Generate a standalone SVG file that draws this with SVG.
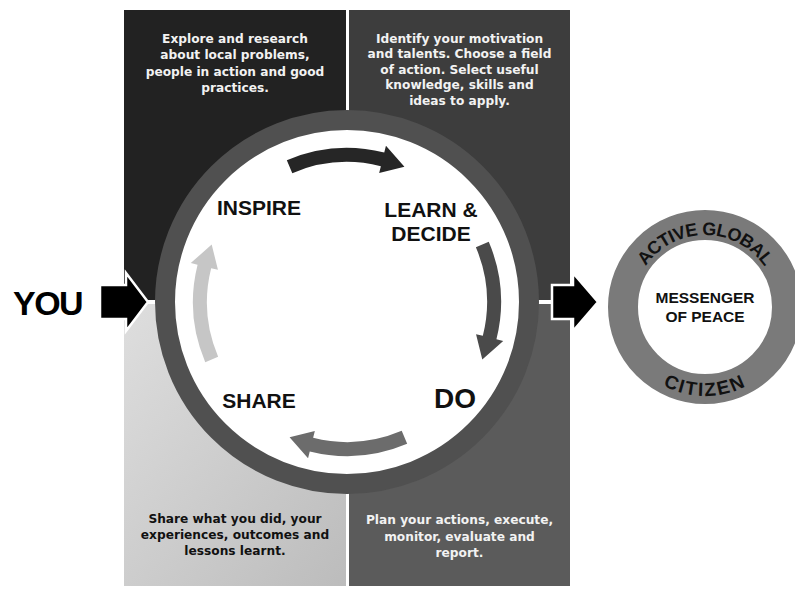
<svg xmlns="http://www.w3.org/2000/svg" width="795" height="591" viewBox="0 0 795 591">
<style>
.desc{font-family:"DejaVu Sans",sans-serif;font-weight:bold;font-size:12.2px;text-anchor:middle}
.light{fill:#f2f2f2}
.dark{fill:#111}
.lbl{font-family:"Liberation Sans",Arial,sans-serif;font-weight:bold;font-size:21px;fill:#111;text-anchor:middle}
.ringtxt{font-family:"Liberation Sans",Arial,sans-serif;font-weight:bold;font-size:18px;fill:#111}
.bigarrow{fill:#000;stroke:#fff;stroke-width:2.5;stroke-linejoin:miter}
</style>
<defs>
<linearGradient id="lg" x1="0" y1="0" x2="1" y2="1">
<stop offset="0" stop-color="#dedede"/>
<stop offset="1" stop-color="#bcbcbc"/>
</linearGradient>
<path id="arc" d="M-60.17,-141.76 A154,154 0 0 1 37.25,-149.43 L38.95,-156.22 L57.43,-135.31 L32.17,-129.05 L33.87,-135.84 A140,140 0 0 0 -54.70,-128.87 Z"/>
<path id="topArc" d="M633,307 A72,72 0 0 1 777,307"/>
<path id="botArc" d="M616,307 A89,89 0 0 0 794,307"/>
</defs>
<rect width="795" height="591" fill="#fff"/>

<g id="panel-inspire">
<rect x="124" y="10" width="222" height="290" fill="#222"/>
<text class="desc light"><tspan x="235" y="43">Explore and research</tspan><tspan x="235" y="59.3">about local problems,</tspan><tspan x="235" y="75.6">people in action and good</tspan><tspan x="235" y="92">practices.</tspan></text>
</g>
<g id="panel-learn">
<rect x="349" y="10" width="221" height="290" fill="#3d3d3d"/>
<text class="desc light"><tspan x="459.5" y="42.5">Identify your motivation</tspan><tspan x="459.5" y="58">and talents. Choose a field</tspan><tspan x="459.5" y="73.5">of action. Select useful</tspan><tspan x="459.5" y="89">knowledge, skills and</tspan><tspan x="459.5" y="104.5">ideas to apply.</tspan></text>
</g>
<g id="panel-share">
<rect x="124" y="304" width="222" height="282" fill="url(#lg)"/>
<text class="desc dark"><tspan x="235" y="523">Share what you did, your</tspan><tspan x="235" y="539">experiences, outcomes and</tspan><tspan x="235" y="555">lessons learnt.</tspan></text>
</g>
<g id="panel-do">
<rect x="349" y="304" width="221" height="282" fill="#5b5b5b"/>
<text class="desc light"><tspan x="459.5" y="524">Plan your actions, execute,</tspan><tspan x="459.5" y="540.5">monitor, evaluate and</tspan><tspan x="459.5" y="557">report.</tspan></text>
</g>

<g id="cycle">
<circle cx="347" cy="302" r="182" fill="#fff" stroke="#505050" stroke-width="20"/>
</g>
<g id="label-inspire"><text class="lbl" x="259" y="215">INSPIRE</text></g>
<g id="label-learn"><text class="lbl"><tspan x="431" y="217">LEARN &amp;</tspan><tspan x="431" y="241">DECIDE</tspan></text></g>
<g id="label-share"><text class="lbl" x="259" y="408">SHARE</text></g>
<g id="label-do"><text class="lbl" x="455" y="408" style="font-size:28px">DO</text></g>

<g id="you"><text x="13" y="315" style="font-family:'Liberation Sans',Arial,sans-serif;font-weight:bold;font-size:34px;letter-spacing:-1.5px;fill:#000">YOU</text></g>

<g id="messenger">
<circle cx="705" cy="307" r="82" fill="#fff" stroke="#7a7a7a" stroke-width="30"/>
<text class="ringtxt" style="letter-spacing:-0.6px"><textPath href="#topArc" startOffset="50%" text-anchor="middle">ACTIVE GLOBAL</textPath></text>
<text class="ringtxt" style="font-size:19px;letter-spacing:2px"><textPath href="#botArc" startOffset="50%" text-anchor="middle">CITIZEN</textPath></text>
<text class="lbl" style="font-size:15.5px"><tspan x="705" y="303">MESSENGER</tspan><tspan x="705" y="322">OF PEACE</tspan></text>
</g>

<g id="connectors">
<use href="#arc" transform="translate(347,302)" fill="#262626"/>
<use href="#arc" transform="translate(347,302) rotate(90)" fill="#4a4a4a"/>
<use href="#arc" transform="translate(347,302) rotate(180)" fill="#6c6c6c"/>
<use href="#arc" transform="translate(347,302) rotate(270)" fill="#c6c6c6"/>
<polygon class="bigarrow" points="100,285 126,285 126,273 148,302 126,331 126,319 100,319"/>
<polygon class="bigarrow" points="552,285 573,285 573,273 598,302 573,331 573,319 552,319"/>
</g>
</svg>
